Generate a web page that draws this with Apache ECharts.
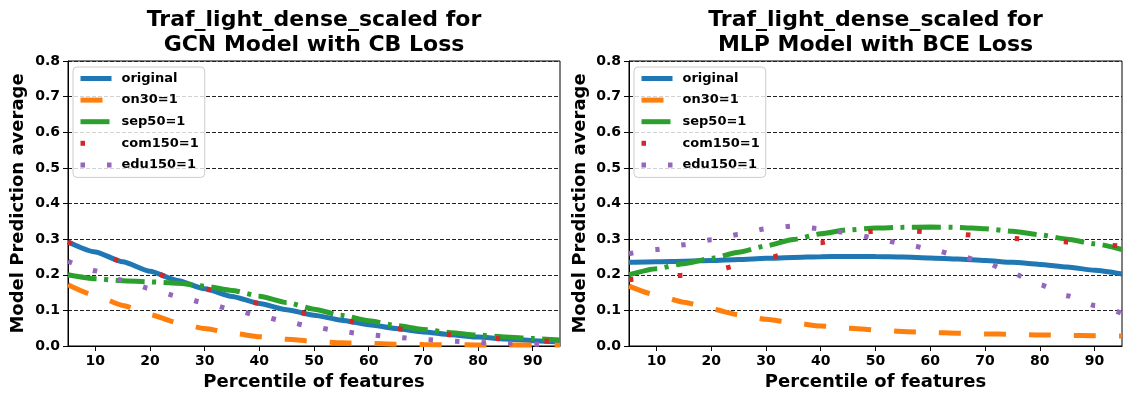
<!DOCTYPE html>
<html><head><meta charset="utf-8">
<script src="https://cdn.jsdelivr.net/npm/echarts@6/dist/echarts.min.js"></script>
<style>html,body{margin:0;padding:0;background:#fff}#c{width:1123px;height:396px}</style>
</head><body><div id="c"></div>
<script>
// ---- data ----
const percentiles = [5,10,15,20,25,30,35,40,45,50,55,60,65,70,75,80,85,90,95];
const xTickValues = [10,20,30,40,50,60,70,80,90];
const seriesNames = ['original','on30=1','sep50=1','com150=1','edu150=1'];
const panelTitles = ['Traf_light_dense_scaled for\nGCN Model with CB Loss','Traf_light_dense_scaled for\nMLP Model with BCE Loss'];

// GCN model with CB loss
const gcnOriginal = [0.292,0.264,0.2365,0.2095,0.184,0.1605,0.139,0.1195,0.102,0.0865,0.0725,0.060,0.049,0.0395,0.0315,0.025,0.0195,0.015,0.0115];
const gcnOn30     = [0.172,0.142,0.114,0.088,0.066,0.049,0.036,0.026,0.019,0.013,0.009,0.007,0.005,0.004,0.0035,0.003,0.003,0.003,0.003];
const gcnSep50    = [0.200,0.189,0.183,0.180,0.176,0.168,0.156,0.140,0.122,0.1035,0.086,0.071,0.0575,0.0465,0.0375,0.0305,0.025,0.021,0.017];
const gcnCom150   = [0.292,0.264,0.2365,0.2095,0.184,0.1605,0.139,0.1195,0.102,0.0865,0.0725,0.060,0.049,0.0395,0.0315,0.025,0.0195,0.015,0.0115];
const gcnEdu150   = [0.238,0.211,0.185,0.161,0.140,0.121,0.103,0.085,0.068,0.053,0.041,0.0315,0.0245,0.0185,0.014,0.010,0.007,0.005,0.0035];

// MLP model with BCE loss
const mlpOriginal = [0.235,0.2365,0.238,0.240,0.243,0.246,0.2485,0.2505,0.2515,0.251,0.2495,0.247,0.244,0.240,0.235,0.229,0.222,0.2125,0.202];
const mlpOn30     = [0.168,0.143,0.123,0.104,0.088,0.075,0.065,0.056,0.050,0.045,0.041,0.038,0.036,0.034,0.033,0.031,0.030,0.029,0.028];
const mlpSep50    = [0.200,0.217,0.231,0.246,0.263,0.281,0.299,0.315,0.326,0.331,0.333,0.334,0.333,0.329,0.322,0.312,0.300,0.287,0.271];
const mlpCom150   = [0.186,0.192,0.199,0.210,0.226,0.245,0.266,0.290,0.310,0.323,0.324,0.320,0.314,0.308,0.302,0.298,0.292,0.286,0.280];
const mlpEdu150   = [0.259,0.271,0.284,0.298,0.313,0.329,0.337,0.329,0.318,0.302,0.287,0.272,0.254,0.235,0.204,0.172,0.141,0.114,0.092];

const panels = [
  [gcnOriginal, gcnOn30, gcnSep50, gcnCom150, gcnEdu150],
  [mlpOriginal, mlpOn30, mlpSep50, mlpCom150, mlpEdu150]
];

// ---- styles ----
const FONT = 'DejaVu Sans';
const colors = ['#1f77b4','#ff7f0e','#2ca02c','#d62728','#9467bd'];
const dashes = ['solid',[22,23],[29,7.5,4,7.5],[4.5,44.5],[4.5,22]];
const gridBoxes = [{left:68, width:492}, {left:629, width:493}];
const titleCenters = [314, 875.5];
const yNameGaps = [41, 40];

const option = {
  animation: false,
  backgroundColor: '#fff',
  title: panelTitles.map((t,i)=>({
    text: t, left: titleCenters[i], top: 8, textAlign: 'center', padding: 0,
    textStyle: {fontFamily: FONT, fontWeight: 'bold', fontSize: 22, lineHeight: 25, color: '#000'}
  })),
  grid: gridBoxes.map(g=>({left:g.left, width:g.width, top:61, height:285, show:true, borderColor:'#000', borderWidth:1, backgroundColor:'transparent'})),
  legend: gridBoxes.map((g,i)=>({
    data: seriesNames, left: g.left + 5, top: 67, orient: 'vertical',
    itemWidth: 31, itemHeight: 14, itemGap: 8.6,
    padding: [5, 6, 6, 5],
    backgroundColor: 'rgba(255,255,255,0.8)', borderColor: '#cccccc', borderWidth: 1, borderRadius: 4,
    lineStyle: {width: 5},
    itemStyle: {color: 'rgba(0,0,0,0)', borderWidth: 0, opacity: 0},
    textStyle: {fontFamily: FONT, fontWeight: 'bold', fontSize: 13, color: '#000', padding: [0,0,0,5]},
    selectedMode: false
  })),
  xAxis: gridBoxes.map((g,i)=>({
    type: 'value', gridIndex: i, min: 5, max: 95,
    name: 'Percentile of features', nameLocation: 'middle', nameGap: 25,
    nameTextStyle: {fontFamily: FONT, fontWeight: 'bold', fontSize: 18, color: '#000'},
    axisLine: {show: true, onZero: false, lineStyle: {color: '#000', width: 1}},
    axisTick: {show: true, length: 5, customValues: xTickValues, lineStyle: {color: '#000', width: 1}},
    axisLabel: {customValues: xTickValues, margin: 8, fontFamily: FONT, fontWeight: 'bold', fontSize: 14, color: '#000'},
    splitLine: {show: false}
  })),
  yAxis: gridBoxes.map((g,i)=>({
    type: 'value', gridIndex: i, min: 0, max: 0.8, interval: 0.1,
    name: 'Model Prediction average', nameLocation: 'middle', nameGap: yNameGaps[i],
    nameTextStyle: {fontFamily: FONT, fontWeight: 'bold', fontSize: 18, color: '#000'},
    axisLine: {show: true, onZero: false, lineStyle: {color: '#000', width: 1}},
    axisTick: {show: true, length: 5, lineStyle: {color: '#000', width: 1}},
    axisLabel: {margin: 8, fontFamily: FONT, fontWeight: 'bold', fontSize: 14, color: '#000', formatter: v => v.toFixed(1)},
    splitLine: {show: true, lineStyle: {color: '#222', width: 1, type: [4, 2]}}
  })),
  series: []
};

panels.forEach((vals, p) => {
  vals.forEach((arr, k) => {
    option.series.push({
      type: 'line', name: seriesNames[k], xAxisIndex: p, yAxisIndex: p,
      data: percentiles.map((x, j) => [x, arr[j]]),
      symbol: 'none', showSymbol: false, smooth: 0.2, smoothMonotone: 'x',
      color: colors[k],
      lineStyle: {color: colors[k], width: 5, type: dashes[k], cap: 'butt'},
      z: 2 + k
    });
  });
});

const chart = echarts.init(document.getElementById('c'), null, {renderer: 'canvas'});
chart.setOption(option);
</script></body></html>
